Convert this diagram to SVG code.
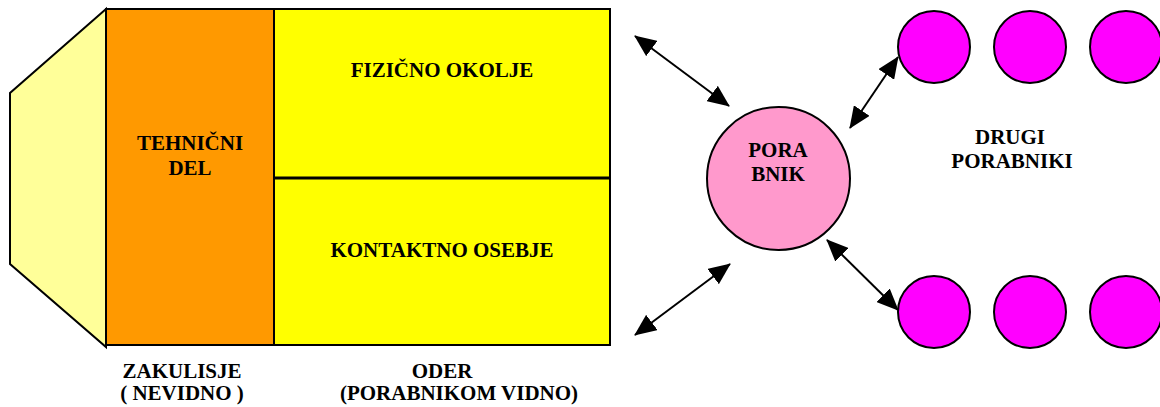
<svg xmlns="http://www.w3.org/2000/svg" width="1160" height="407" viewBox="0 0 1160 407">
<style>
text{font-family:"Liberation Serif","Times New Roman",serif;font-weight:700;font-size:21px;fill:#000;text-anchor:middle}
.ol{stroke:#000;stroke-width:2}
.other{fill:#FF00FF;stroke:#000;stroke-width:2}
.conn{stroke:#000;stroke-width:2;fill:none;marker-start:url(#ah);marker-end:url(#ah)}
</style>
<defs>
<marker id="ah" markerUnits="userSpaceOnUse" markerWidth="22" markerHeight="19" refX="21" refY="9.5" orient="auto-start-reverse" viewBox="0 0 22 19">
<path d="M0,0 L22,9.5 L0,19 Z" fill="#000"/>
</marker>
</defs>
<rect width="1160" height="407" fill="#fff"/>
<g id="backstage-wing">
<polygon class="ol" points="106,9 10,93 10,264 106,347" fill="#FFFF99"/>
</g>
<g id="tehnicni-del">
<rect class="ol" x="106" y="9" width="168" height="336" fill="#FF9900"/>
<text x="190" y="150">TEHNIČNI</text>
<text x="190" y="175">DEL</text>
</g>
<g id="fizicno-okolje">
<rect class="ol" x="274" y="9" width="336" height="169" fill="#FFFF00"/>
<text x="442" y="77">FIZIČNO OKOLJE</text>
</g>
<g id="kontaktno-osebje">
<rect class="ol" x="274" y="178" width="336" height="167" fill="#FFFF00"/>
<line x1="274" y1="178" x2="610" y2="178" stroke="#000" stroke-width="3"/>
<text x="442" y="257">KONTAKTNO OSEBJE</text>
</g>
<g id="label-zakulisje">
<text x="182" y="378">ZAKULISJE</text>
<text x="182" y="400">( NEVIDNO )</text>
</g>
<g id="label-oder">
<text x="442" y="378">ODER</text>
<text x="459" y="400">(PORABNIKOM VIDNO)</text>
</g>
<g id="porabnik">
<circle cx="778.5" cy="178.5" r="71.5" fill="#FF99CC" stroke="#000" stroke-width="2"/>
<text x="778" y="157">PORA</text>
<text x="778" y="181">BNIK</text>
</g>
<g id="drugi-porabniki">
<circle class="other" cx="934" cy="47" r="36"/>
<circle class="other" cx="1030" cy="47" r="36"/>
<circle class="other" cx="1126" cy="47" r="36"/>
<circle class="other" cx="934" cy="312" r="36"/>
<circle class="other" cx="1030" cy="312" r="36"/>
<circle class="other" cx="1126" cy="312" r="36"/>
<text x="1010" y="144">DRUGI</text>
<text x="1012" y="168">PORABNIKI</text>
</g>
<g id="connectors">
<line class="conn" x1="635" y1="36" x2="729" y2="106"/>
<line class="conn" x1="850" y1="128" x2="898" y2="57"/>
<line class="conn" x1="635" y1="335" x2="730" y2="264"/>
<line class="conn" x1="827" y1="240" x2="898" y2="310"/>
</g>
</svg>
